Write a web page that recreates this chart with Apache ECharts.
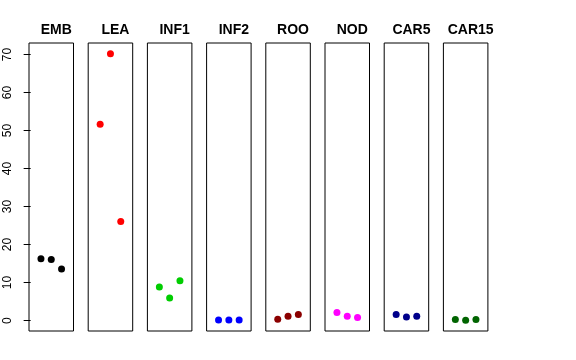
<!DOCTYPE html>
<html>
<head>
<meta charset="utf-8">
<script src="https://cdn.jsdelivr.net/npm/echarts@6/dist/echarts.min.js"></script>
<style>html,body{margin:0;padding:0;background:#fff}#c{width:576px;height:360px}</style>
</head>
<body>
<div id="c"></div>
<script>
// Data
const panels = ["EMB", "LEA", "INF1", "INF2", "ROO", "NOD", "CAR5", "CAR15"];
const positions = [1, 2, 3];
const EMB = [16.3, 16.05, 13.6];
const LEA = [51.7, 70.2, 26.05];
const INF1 = [8.85, 5.95, 10.5];
const INF2 = [0.17, 0.17, 0.17];
const ROO = [0.35, 1.13, 1.58];
const NOD = [2.1, 1.13, 0.8];
const CAR5 = [1.58, 0.95, 1.13];
const CAR15 = [0.26, 0.08, 0.26];
const yTicks = [0, 10, 20, 30, 40, 50, 60, 70];

// Styles
const values = [EMB, LEA, INF1, INF2, ROO, NOD, CAR5, CAR15];
const colors = ["#000000", "#FF0000", "#00CD00", "#0000FF", "#8B0000", "#FF00FF", "#00008B", "#006400"];

(function () {
const chart = echarts.init(document.getElementById('c'), null, {renderer: 'canvas'});
const grids = [], xAxes = [], yAxes = [], series = [], titles = [];
const pitch = 59.2, gw = 44.5, gTop = 43, gh = 288;
panels.forEach((name, i) => {
  const gLeft = 29 + pitch * i;
  grids.push({left: gLeft, top: gTop, width: gw, height: gh, show: true,
    borderColor: '#000', borderWidth: 1, backgroundColor: 'transparent'});
  xAxes.push({gridIndex: i, type: 'value', min: -0.16, max: 4.16, show: false});
  yAxes.push({gridIndex: i, type: 'value', min: -2.74, max: 73.05,
    splitLine: {show: false},
    axisLine: {show: false},
    axisTick: {show: i === 0, length: 7, lineStyle: {color: '#000'}, customValues: yTicks},
    axisLabel: {show: i === 0, rotate: 90, margin: 15, color: '#000', fontSize: 12,
      fontFamily: 'Liberation Sans, Arial, sans-serif', customValues: yTicks}
  });
  series.push({type: 'scatter', xAxisIndex: i, yAxisIndex: i, symbolSize: 7,
    itemStyle: {color: colors[i], opacity: 1},
    data: positions.map((p, k) => [p, values[i][k]])});
  titles.push({text: name, left: gLeft + gw / 2, top: 18, textAlign: 'center',
    textStyle: {fontSize: 14, fontWeight: 'bold', color: '#000',
      fontFamily: 'Liberation Sans, Arial, sans-serif'}});
});
chart.setOption({animation: false, title: titles, grid: grids, xAxis: xAxes, yAxis: yAxes, series: series});
})();
</script>
</body>
</html>
